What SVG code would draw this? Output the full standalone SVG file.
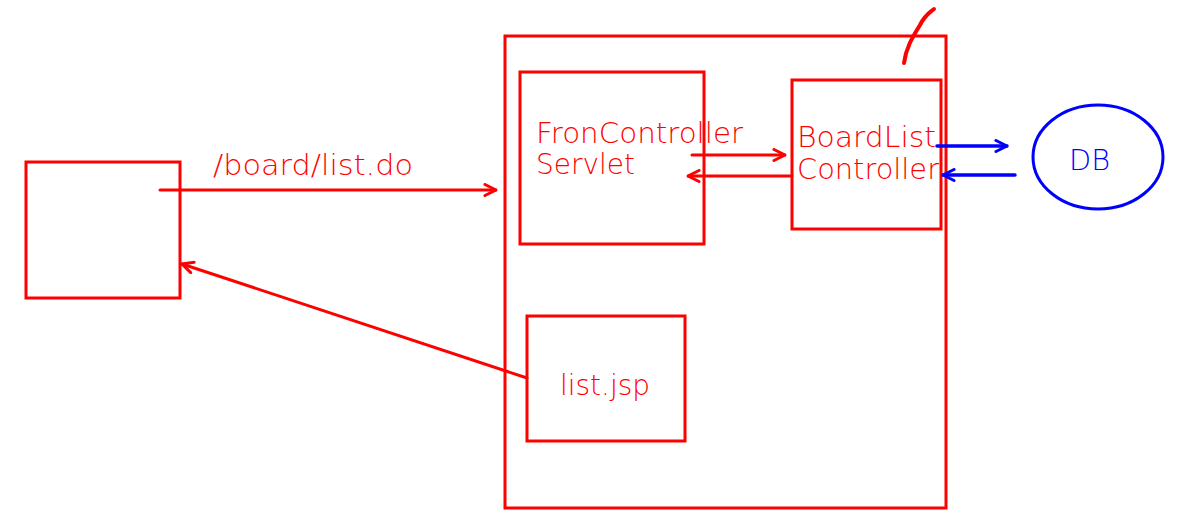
<svg xmlns="http://www.w3.org/2000/svg" width="1192" height="532" viewBox="0 0 1192 532">
<defs>
<style>
.box{fill:none;stroke:#ff0000;stroke-width:3}
.t{font-family:"DejaVu Sans",sans-serif;font-size:28px;font-weight:200;fill:#ff0000}
.r{fill:none;stroke:#ff0000;stroke-width:3;stroke-linecap:round}
.b{fill:none;stroke:#0000ff;stroke-width:3.5;stroke-linecap:round}
</style>
<marker id="ar" viewBox="0 0 14 14" refX="13" refY="7" markerWidth="14" markerHeight="14" markerUnits="userSpaceOnUse" orient="auto">
<path d="M2,1.5 L13,7 L2,12.5" fill="none" stroke="#ff0000" stroke-width="3" stroke-linecap="round" stroke-linejoin="round"/>
</marker>
<marker id="ab" viewBox="0 0 14 14" refX="13" refY="7" markerWidth="14" markerHeight="14" markerUnits="userSpaceOnUse" orient="auto">
<path d="M2,1.5 L13,7 L2,12.5" fill="none" stroke="#0000ff" stroke-width="3" stroke-linecap="round" stroke-linejoin="round"/>
</marker>
</defs>
<rect width="1192" height="532" fill="#ffffff"/>
<g id="client"><rect class="box" x="26" y="162" width="154" height="136"/></g>
<g id="container"><rect class="box" x="505" y="36" width="441" height="472"/>
<path d="M934,9 C929,13 925,15 920,25 C912,38 906,48 904,63" fill="none" stroke="#ff0000" stroke-width="4" stroke-linecap="round"/></g>
<g id="frontcontroller"><rect class="box" x="520" y="72" width="184" height="172"/>
<text class="t" x="536" y="143" textLength="207" lengthAdjust="spacingAndGlyphs">FronController</text>
<text class="t" x="536" y="174" textLength="99" lengthAdjust="spacingAndGlyphs">Servlet</text></g>
<g id="boardlist"><rect class="box" x="792" y="80" width="149" height="149"/>
<text class="t" x="797" y="147" textLength="139" lengthAdjust="spacingAndGlyphs">BoardList</text>
<text class="t" x="797" y="179" textLength="142" lengthAdjust="spacingAndGlyphs">Controller</text></g>
<g id="listjsp"><rect class="box" x="527" y="316" width="158" height="125"/>
<text class="t" x="560" y="395" textLength="90" lengthAdjust="spacingAndGlyphs">list.jsp</text></g>
<g id="db"><ellipse cx="1098" cy="157" rx="65" ry="52" fill="none" stroke="#0000ff" stroke-width="3"/>
<text x="1069" y="170" font-family="DejaVu Sans, sans-serif" font-weight="200" font-size="28" fill="#0000ff" textLength="41" lengthAdjust="spacingAndGlyphs">DB</text></g>
<g id="connectors">
<path class="r" d="M160,190 L496,190" marker-end="url(#ar)"/>
<text class="t" x="213" y="175" textLength="200" lengthAdjust="spacingAndGlyphs">/board/list.do</text>
<path class="r" d="M527,378 L182,264" marker-end="url(#ar)"/>
<path class="r" d="M692,155 L785,155" marker-end="url(#ar)"/>
<path class="r" d="M792,176 L688,176" marker-end="url(#ar)"/>
<path class="b" d="M937,146 L1007,146" marker-end="url(#ab)"/>
<path class="b" d="M1015,175 L943,175" marker-end="url(#ab)"/>
</g>
</svg>
